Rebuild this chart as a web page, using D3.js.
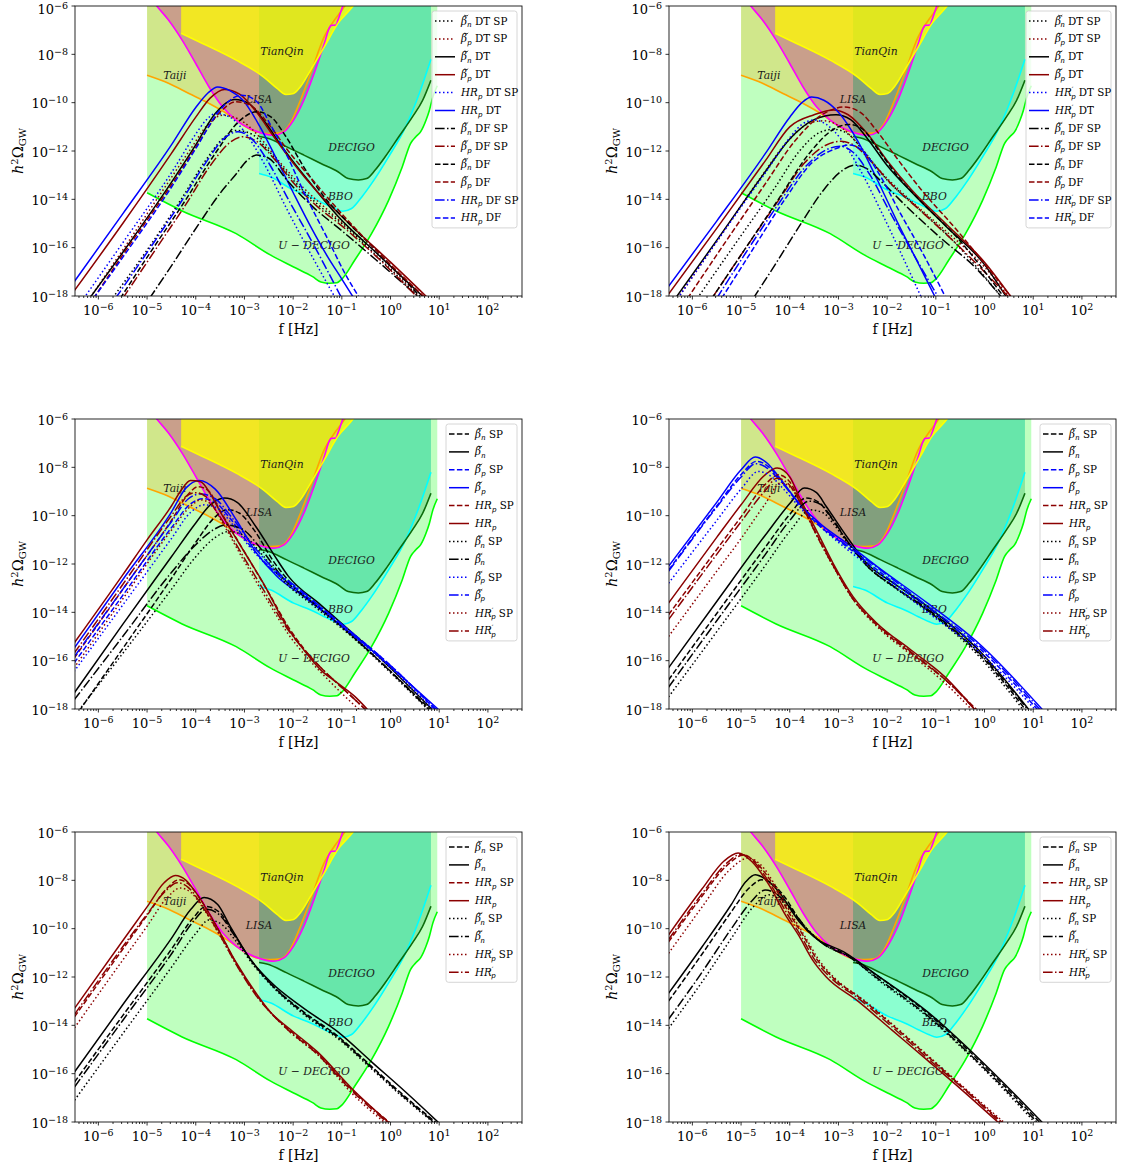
<!DOCTYPE html>
<html><head><meta charset="utf-8">
<script src="https://cdn.jsdelivr.net/npm/d3@7"></script>
<style>body{margin:0;background:#fff} text{font-family:"DejaVu Serif",serif;white-space:pre}</style>
</head><body><svg id="c" width="1132" height="1171"></svg>
<script>
// ---------- detector sensitivity curves [log10 f, log10 h2Omega] ----------
const uDecigo = [[-5,-13.73],[-4.28,-14.48],[-3.17,-15.42],[-2.47,-16.3],[-1.99,-16.8],[-1.6,-17.2],[-1.43,-17.42],[-1.25,-17.47],[-1.1,-17.45],[-1.0,-17.3],[-0.73,-16.5],[-0.39,-15.42],[-0.04,-14.04],[0.24,-12.66],[0.41,-11.69],[0.52,-11.41],[0.62,-11.2],[0.73,-10.72],[0.8,-10.3],[0.87,-9.76],[0.96,-9.3]];
const decigo = [[-2.7,-11.4],[-2.54,-11.46],[-2.13,-11.83],[-1.78,-12.17],[-1.43,-12.52],[-1.08,-12.86],[-0.87,-13.14],[-0.66,-13.2],[-0.49,-13.14],[-0.32,-12.8],[-0.11,-12.24],[0.17,-11.41],[0.45,-10.59],[0.66,-9.9],[0.83,-9.07]];
const bbo = [[-2.7,-12.93],[-2.47,-13.07],[-1.99,-13.62],[-1.64,-13.9],[-1.36,-14.18],[-1.15,-14.38],[-0.98,-14.49],[-0.8,-14.38],[-0.59,-13.9],[-0.39,-13.35],[-0.04,-12.24],[0.31,-11.0],[0.59,-9.62],[0.83,-8.2]];
const lisa = [[-4.95,-5.6],[-4.8,-6.0],[-4.56,-6.58],[-4.28,-7.41],[-4.0,-8.38],[-3.73,-9.34],[-3.45,-10.17],[-3.17,-10.72],[-2.89,-11.07],[-2.61,-11.28],[-2.4,-11.35],[-2.19,-11.21],[-1.99,-10.72],[-1.78,-9.9],[-1.57,-8.79],[-1.36,-7.55],[-1.26,-6.93],[-1.22,-6.8],[-1.12,-6.79],[-1.08,-6.58],[-0.98,-6.0],[-0.9,-5.6]];
const tianqin = [[-4.3,-7.13],[-3.86,-7.55],[-3.17,-8.24],[-2.61,-8.93],[-2.33,-9.41],[-2.15,-9.66],[-1.99,-9.62],[-1.85,-9.34],[-1.64,-8.65],[-1.36,-7.69],[-1.08,-6.72],[-0.77,-6.0],[-0.7,-5.8]];
const taiji = [[-5,-8.87],[-4.56,-9.2],[-4.14,-9.62],[-3.73,-10.03],[-3.31,-10.52],[-3.03,-10.93],[-2.75,-11.21],[-2.47,-11.28],[-2.26,-11.25],[-2.06,-10.86],[-1.85,-9.9],[-1.64,-8.79],[-1.36,-7.27],[-1.15,-6.58],[-0.94,-6.0],[-0.88,-5.8]];
const detLabels = ["TianQin","Taiji","LISA","DECIGO","BBO","U − DECIGO"];
const detLabelPos = [[-2.23,-7.85],[-4.43,-8.86],[-2.70,-9.87],[-0.80,-11.86],[-1.03,-13.87],[-1.57,-15.88]];

// ---------- axis ticks ----------
const xTickExp = [-6,-5,-4,-3,-2,-1,0,1,2];
const yTickExp = [-6,-8,-10,-12,-14,-16,-18];

// ---------- panel 1 (top-left) ----------
const p1_bnDTSP = [[-5.75,-18.2],[-5,-16.1],[-4.3,-14.0],[-3.8,-12.4],[-3.45,-11.5],[-3.17,-11.15],[-2.85,-11.3],[-2.5,-12.0],[-2.0,-13.2],[-1.5,-14.2],[-1.0,-15.0],[-0.3,-16.3],[0.6,-18.1]];
const p1_bpDTSP = [[-6.25,-18.3],[-5.5,-16.1],[-4.7,-13.7],[-4.1,-11.9],[-3.75,-10.9],[-3.45,-10.52],[-3.1,-10.7],[-2.7,-11.4],[-2.3,-12.4],[-1.8,-13.5],[-1.2,-14.6],[-0.4,-16.0],[0.6,-18.05]];
const p1_bnDT = [[-6.2,-18.15],[-5.5,-16.2],[-4.5,-13.3],[-4.0,-11.75],[-3.6,-10.45],[-3.2,-9.87],[-2.9,-10.05],[-2.6,-10.75],[-2.2,-11.9],[-1.7,-13.2],[-1.08,-14.7],[-0.3,-16.2],[0.68,-18.05]];
const p1_bpDT = [[-6.5,-17.8],[-5.5,-15.0],[-4.5,-12.1],[-4.0,-10.6],[-3.7,-9.8],[-3.41,-9.45],[-3.1,-9.65],[-2.75,-10.4],[-2.4,-11.4],[-2.0,-12.5],[-1.5,-13.7],[-0.8,-15.1],[0,-16.6],[0.75,-18.05]];
const p1_HRDTSP = [[-6.3,-18.1],[-5.5,-15.8],[-4.5,-12.9],[-4.0,-11.3],[-3.8,-10.75],[-3.59,-10.45],[-3.3,-10.6],[-3.0,-11.2],[-2.6,-12.5],[-2.13,-14.4],[-1.6,-16.4],[-1.1,-18.2]];
const p1_HRDT = [[-6.5,-17.42],[-5.5,-14.6],[-4.5,-11.75],[-4.0,-10.2],[-3.75,-9.6],[-3.55,-9.35],[-3.3,-9.5],[-3.03,-9.9],[-2.68,-11.0],[-2.33,-12.38],[-1.99,-13.76],[-1.64,-15.13],[-1.29,-16.38],[-1.0,-17.3],[-0.75,-18.1]];
const p1_bnDFSP = [[-4.95,-18.1],[-4.5,-16.75],[-3.93,-15.0],[-3.5,-13.75],[-3.17,-12.95],[-2.95,-12.4],[-2.75,-12.17],[-2.5,-12.3],[-2.13,-13.2],[-1.6,-14.3],[-1.0,-15.3],[-0.3,-16.5],[0.58,-18.05]];
const p1_bpDFSP = [[-5.5,-18.1],[-4.8,-16.0],[-4.2,-14.2],[-3.7,-12.6],[-3.3,-11.65],[-3.03,-11.41],[-2.75,-11.6],[-2.4,-12.3],[-2.0,-13.3],[-1.5,-14.3],[-1.0,-15.1],[-0.3,-16.35],[0.55,-18.05]];
const p1_bnDF = [[-5.55,-18.1],[-5.0,-16.4],[-4.2,-14.0],[-3.6,-12.1],[-3.1,-10.75],[-2.75,-10.38],[-2.45,-10.6],[-2.15,-11.4],[-1.8,-12.6],[-1.4,-13.8],[-0.9,-14.9],[-0.2,-16.3],[0.62,-18.05]];
const p1_bpDF = [[-6.1,-18.1],[-5.5,-16.3],[-4.5,-13.4],[-4.0,-11.85],[-3.55,-10.5],[-3.17,-9.96],[-2.85,-10.15],[-2.5,-10.9],[-2.1,-12.0],[-1.6,-13.2],[-1.0,-14.6],[-0.2,-16.3],[0.7,-18.05]];
const p1_HRDFSP = [[-5.65,-18.1],[-5.0,-16.2],[-4.3,-14.1],[-3.8,-12.5],[-3.4,-11.45],[-3.13,-11.2],[-2.85,-11.5],[-2.47,-12.6],[-2.1,-14.0],[-1.6,-15.8],[-1.0,-18.1]];
const p1_HRDF = [[-6.1,-18.1],[-5.5,-16.4],[-4.5,-13.5],[-4.0,-11.9],[-3.5,-10.3],[-3.06,-9.69],[-2.75,-9.95],[-2.47,-10.9],[-2.1,-12.3],[-1.78,-13.7],[-1.3,-15.6],[-0.9,-17.2],[-0.63,-18.1]];

// ---------- panel 2 (top-right) ----------
const p2_bnDTSP = [[-5.9,-18.1],[-5.0,-15.5],[-4.3,-13.5],[-3.8,-12.0],[-3.4,-11.25],[-3.1,-11.1],[-2.8,-11.3],[-2.45,-12.1],[-2.0,-13.2],[-1.4,-14.3],[-0.7,-15.6],[0.35,-18.05]];
const p2_bpDTSP = [[-6.3,-18.1],[-5.5,-15.75],[-4.6,-13.1],[-4.0,-11.5],[-3.6,-10.85],[-3.3,-10.75],[-3.0,-10.95],[-2.6,-11.7],[-2.2,-12.7],[-1.6,-13.9],[-0.8,-15.3],[0.0,-16.8],[0.5,-18.05]];
const p2_bnDT = [[-6.35,-18.1],[-5.5,-15.7],[-4.5,-12.85],[-4.0,-11.5],[-3.5,-10.7],[-3.05,-10.5],[-2.75,-10.7],[-2.4,-11.5],[-2.0,-12.6],[-1.5,-13.7],[-0.8,-15.1],[0,-16.7],[0.45,-18.05]];
const p2_bpDT = [[-6.5,-17.95],[-5.5,-15.2],[-4.5,-12.4],[-4.0,-11.0],[-3.5,-10.5],[-3.1,-10.3],[-2.8,-10.5],[-2.4,-11.3],[-2.0,-12.4],[-1.5,-13.6],[-0.8,-15.0],[0,-16.6],[0.55,-18.05]];
const p2_HRDTSP = [[-6.3,-18.1],[-5.5,-15.75],[-4.5,-12.9],[-4.0,-11.45],[-3.75,-10.9],[-3.5,-10.72],[-3.25,-10.9],[-2.95,-11.5],[-2.55,-12.8],[-2.1,-14.6],[-1.7,-16.3],[-1.3,-18.05]];
const p2_HRDT = [[-6.5,-17.63],[-5.5,-14.9],[-4.5,-12.1],[-4.0,-10.6],[-3.75,-10.0],[-3.55,-9.77],[-3.3,-9.9],[-3.0,-10.4],[-2.6,-11.6],[-2.2,-13.2],[-1.8,-14.9],[-1.4,-16.5],[-1.0,-18.1]];
const p2_bnDFSP = [[-4.75,-18.1],[-4.3,-16.7],[-3.8,-15.1],[-3.3,-13.6],[-2.95,-12.85],[-2.66,-12.58],[-2.4,-12.75],[-2.1,-13.3],[-1.6,-14.3],[-0.9,-15.6],[-0.2,-16.8],[0.35,-18.05]];
const p2_bpDFSP = [[-5.6,-18.1],[-4.9,-16.0],[-4.2,-13.95],[-3.7,-12.5],[-3.25,-11.75],[-2.95,-11.6],[-2.65,-11.8],[-2.3,-12.5],[-1.9,-13.4],[-1.3,-14.5],[-0.6,-15.8],[0.5,-18.05]];
const p2_bnDF = [[-5.6,-18.1],[-5.0,-16.3],[-4.2,-13.9],[-3.6,-12.1],[-3.1,-11.1],[-2.78,-10.9],[-2.5,-11.1],[-2.2,-11.9],[-1.8,-13.0],[-1.3,-14.1],[-0.6,-15.5],[0.4,-18.05]];
const p2_bpDF = [[-6.1,-18.1],[-5.5,-16.3],[-4.5,-13.35],[-3.9,-11.6],[-3.3,-10.45],[-2.87,-10.18],[-2.55,-10.4],[-2.2,-11.2],[-1.8,-12.3],[-1.3,-13.6],[-0.6,-15.2],[0.55,-18.05]];
const p2_HRDFSP = [[-5.5,-18.1],[-4.9,-16.2],[-4.2,-14.1],[-3.7,-12.7],[-3.25,-11.95],[-2.97,-11.8],[-2.7,-12.05],[-2.35,-13.0],[-1.95,-14.5],[-1.45,-16.3],[-0.95,-18.05]];
const p2_HRDF = [[-5.4,-18.1],[-4.8,-16.2],[-4.1,-14.0],[-3.55,-12.5],[-3.05,-11.9],[-2.77,-11.75],[-2.5,-12.0],[-2.15,-13.0],[-1.75,-14.5],[-1.25,-16.3],[-0.8,-18.05]];

// ---------- panel 3 (middle-left) ----------
const p3_bnSP = [[-6.4,-18.1],[-5.5,-15.5],[-4.5,-12.6],[-4.0,-11.1],[-3.6,-10.05],[-3.35,-9.75],[-3.1,-9.9],[-2.8,-10.6],[-2.4,-11.9],[-2.0,-12.9],[-1.4,-13.9],[-0.5,-15.5],[0.83,-18.05]];
const p3_bn = [[-6.5,-17.35],[-5.5,-14.5],[-4.5,-11.7],[-4.0,-10.3],[-3.7,-9.55],[-3.41,-9.27],[-3.15,-9.45],[-2.75,-10.5],[-2.4,-11.6],[-2.1,-12.5],[-1.43,-13.7],[-0.39,-15.56],[0.87,-18.05]];
const p3_bpSP = [[-6.5,-16.1],[-5.5,-13.3],[-4.5,-10.5],[-4.1,-9.5],[-3.85,-9.3],[-3.6,-9.45],[-3.3,-10.1],[-2.9,-11.2],[-2.5,-12.1],[-2.0,-12.9],[-1.0,-14.5],[0,-16.2],[0.93,-18.05]];
const p3_bp = [[-6.5,-15.49],[-5.5,-12.65],[-4.5,-9.85],[-4.2,-8.85],[-3.93,-8.54],[-3.6,-8.9],[-3.17,-10.17],[-2.75,-11.55],[-2.33,-12.52],[-1.78,-13.35],[-1.08,-14.45],[-0.39,-15.56],[0.31,-16.8],[1.0,-18.05]];
const p3_HRSP = [[-6.5,-15.9],[-5.5,-13.05],[-4.5,-10.2],[-4.15,-9.1],[-3.95,-8.8],[-3.75,-8.95],[-3.5,-9.8],[-3.0,-11.5],[-2.5,-13.2],[-2.1,-14.6],[-1.7,-15.7],[-1.3,-16.55],[-0.9,-17.3],[-0.5,-18.05]];
const p3_HR = [[-6.5,-15.28],[-5.5,-12.45],[-5.0,-11.0],[-4.5,-9.6],[-4.3,-8.95],[-4.11,-8.54],[-3.9,-8.6],[-3.7,-9.1],[-3.52,-9.76],[-3.03,-11.41],[-2.61,-12.8],[-2.13,-14.59],[-1.78,-15.56],[-1.43,-16.39],[-1.08,-16.94],[-0.73,-17.49],[-0.46,-18.05]];
const p3_bnpSP = [[-6.4,-18.05],[-5.5,-15.7],[-4.5,-13.05],[-4.0,-11.7],[-3.6,-10.9],[-3.31,-10.65],[-3.0,-10.85],[-2.6,-11.7],[-2.2,-12.7],[-1.6,-13.7],[-0.8,-15.0],[0,-16.5],[0.78,-18.05]];
const p3_bnp = [[-6.5,-17.63],[-5.5,-15.0],[-4.5,-12.35],[-4.0,-11.2],[-3.65,-10.6],[-3.38,-10.38],[-3.05,-10.55],[-2.65,-11.4],[-2.2,-12.6],[-1.6,-13.6],[-0.8,-14.95],[0,-16.45],[0.8,-18.05]];
const p3_bppSP = [[-6.5,-16.45],[-5.5,-13.7],[-4.5,-10.95],[-4.1,-9.85],[-3.82,-9.55],[-3.55,-9.7],[-3.25,-10.35],[-2.85,-11.4],[-2.4,-12.3],[-1.9,-13.1],[-1.0,-14.6],[0,-16.3],[0.9,-18.05]];
const p3_bpp = [[-6.5,-15.85],[-5.5,-13.05],[-4.5,-10.25],[-4.15,-9.3],[-3.9,-9.1],[-3.6,-9.3],[-3.25,-10.1],[-2.8,-11.3],[-2.4,-12.2],[-1.9,-13.0],[-1.0,-14.5],[0,-16.2],[0.95,-18.05]];
const p3_HRpSP = [[-6.5,-16.3],[-5.5,-13.45],[-4.5,-10.6],[-4.1,-9.6],[-3.9,-9.35],[-3.7,-9.5],[-3.45,-10.3],[-3.0,-11.9],[-2.5,-13.6],[-2.1,-14.9],[-1.7,-15.9],[-1.3,-16.75],[-0.9,-17.55],[-0.6,-18.1]];
const p3_HRp = [[-6.5,-15.7],[-5.5,-12.85],[-4.5,-10.0],[-4.2,-9.2],[-4.0,-9.05],[-3.8,-9.2],[-3.55,-9.9],[-3.05,-11.6],[-2.6,-13.1],[-2.15,-14.6],[-1.75,-15.6],[-1.35,-16.45],[-0.95,-17.2],[-0.5,-18.05]];

// ---------- panel 4 (middle-right) ----------
const p4_bnSP = [[-6.49,-16.8],[-5.5,-14.05],[-4.5,-11.3],[-4.0,-9.95],[-3.67,-9.27],[-3.4,-9.45],[-3.2,-9.95],[-2.8,-11.1],[-2.4,-12.1],[-1.85,-12.95],[-1.15,-13.95],[-0.1,-15.75],[0.85,-18.05]];
const p4_bn = [[-6.49,-16.3],[-5.5,-13.55],[-4.5,-10.8],[-4.0,-9.5],[-3.7,-8.86],[-3.45,-9.05],[-3.25,-9.62],[-2.83,-10.86],[-2.42,-11.97],[-1.86,-12.8],[-1.17,-13.76],[-0.12,-15.56],[0.92,-18.05]];
const p4_bpSP = [[-6.49,-12.25],[-5.5,-9.6],[-5.0,-8.3],[-4.68,-7.75],[-4.42,-8.0],[-4.2,-8.5],[-3.8,-9.55],[-3.4,-10.4],[-2.85,-11.25],[-2.2,-12.25],[-1.2,-13.8],[-0.1,-15.5],[1.1,-18.05]];
const p4_bp = [[-6.49,-12.1],[-5.5,-9.45],[-5.0,-8.1],[-4.71,-7.57],[-4.45,-7.85],[-4.23,-8.38],[-3.81,-9.48],[-3.39,-10.31],[-2.83,-11.14],[-2.21,-12.1],[-1.17,-13.62],[-0.12,-15.28],[1.2,-18.05]];
const p4_HRSP = [[-6.49,-14.1],[-5.5,-11.4],[-5.0,-10.05],[-4.5,-8.7],[-4.23,-8.31],[-4.0,-8.6],[-3.8,-9.35],[-3.4,-10.95],[-3.1,-12.1],[-2.7,-13.45],[-2.2,-14.55],[-1.5,-15.7],[-0.8,-16.8],[-0.15,-18.05]];
const p4_HR = [[-6.49,-13.62],[-5.5,-10.9],[-5.0,-9.55],[-4.5,-8.3],[-4.26,-8.03],[-4.0,-8.4],[-3.81,-9.2],[-3.39,-10.86],[-3.11,-11.97],[-2.7,-13.35],[-2.21,-14.45],[-1.51,-15.56],[-0.82,-16.66],[-0.19,-18.05]];
const p4_bnpSP = [[-6.49,-17.5],[-5.5,-14.8],[-4.5,-12.05],[-4.0,-10.65],[-3.57,-9.76],[-3.3,-9.9],[-3.1,-10.35],[-2.75,-11.3],[-2.35,-12.2],[-1.8,-13.05],[-1.1,-14.05],[-0.1,-15.85],[0.8,-18.05]];
const p4_bnp = [[-6.49,-17.1],[-5.5,-14.35],[-4.5,-11.6],[-4.0,-10.2],[-3.6,-9.4],[-3.35,-9.55],[-3.15,-10.05],[-2.8,-11.1],[-2.4,-12.1],[-1.85,-12.95],[-1.15,-13.9],[-0.1,-15.7],[0.9,-18.05]];
const p4_bppSP = [[-6.49,-12.8],[-5.5,-10.2],[-5.0,-8.9],[-4.64,-8.17],[-4.4,-8.35],[-4.15,-8.85],[-3.75,-9.75],[-3.35,-10.5],[-2.85,-11.35],[-2.2,-12.35],[-1.2,-13.95],[-0.1,-15.65],[1.05,-18.05]];
const p4_bpp = [[-6.49,-12.3],[-5.5,-9.65],[-5.0,-8.4],[-4.7,-7.85],[-4.45,-8.05],[-4.2,-8.55],[-3.8,-9.5],[-3.4,-10.35],[-2.85,-11.2],[-2.2,-12.15],[-1.2,-13.7],[-0.1,-15.4],[1.15,-18.05]];
const p4_HRpSP = [[-6.49,-15.0],[-5.5,-12.3],[-5.0,-10.95],[-4.5,-9.5],[-4.19,-8.65],[-3.95,-8.9],[-3.75,-9.6],[-3.35,-11.2],[-3.05,-12.3],[-2.65,-13.6],[-2.15,-14.7],[-1.45,-15.85],[-0.8,-16.95],[-0.25,-18.05]];
const p4_HRp = [[-6.49,-14.3],[-5.5,-11.6],[-5.0,-10.25],[-4.5,-8.95],[-4.26,-8.45],[-4.02,-8.7],[-3.8,-9.4],[-3.4,-11.0],[-3.1,-12.1],[-2.7,-13.45],[-2.2,-14.5],[-1.5,-15.65],[-0.8,-16.8],[-0.18,-18.05]];

// ---------- panel 5 (bottom-left) ----------
const p5_bnSP = [[-6.49,-16.35],[-5.5,-13.6],[-4.5,-10.85],[-4.05,-9.55],[-3.79,-9.08],[-3.5,-9.35],[-3.25,-10.1],[-2.85,-11.35],[-2.45,-12.3],[-1.78,-13.45],[-1.08,-14.45],[-0.39,-15.7],[0.3,-16.95],[0.95,-18.05]];
const p5_bn = [[-6.49,-15.93],[-5.5,-13.15],[-4.5,-10.4],[-4.1,-9.2],[-3.83,-8.71],[-3.55,-9.0],[-3.31,-9.84],[-2.89,-11.23],[-2.47,-12.19],[-1.78,-13.3],[-1.08,-14.27],[-0.39,-15.51],[0.31,-16.76],[1.0,-18.05]];
const p5_HRSP = [[-6.49,-13.65],[-5.5,-10.85],[-5.0,-9.45],[-4.6,-8.35],[-4.35,-7.98],[-4.15,-8.15],[-3.95,-8.65],[-3.55,-10.0],[-3.15,-11.5],[-2.75,-12.75],[-2.45,-13.5],[-2.1,-14.15],[-1.5,-15.15],[-0.8,-16.65],[0.0,-18.05]];
const p5_HR = [[-6.49,-13.3],[-5.5,-10.5],[-5.0,-9.1],[-4.65,-8.1],[-4.42,-7.8],[-4.2,-8.0],[-4.0,-8.5],[-3.59,-9.84],[-3.17,-11.4],[-2.75,-12.7],[-2.47,-13.45],[-2.1,-14.1],[-1.5,-15.1],[-0.8,-16.6],[-0.02,-18.05]];
const p5_bnpSP = [[-6.49,-17.1],[-5.5,-14.35],[-4.5,-11.6],[-4.0,-10.2],[-3.73,-9.64],[-3.45,-9.85],[-3.2,-10.45],[-2.8,-11.55],[-2.4,-12.45],[-1.75,-13.6],[-1.05,-14.6],[-0.39,-15.8],[0.3,-17.05],[0.9,-18.05]];
const p5_bnp = [[-6.49,-16.55],[-5.5,-13.8],[-4.5,-11.05],[-4.05,-9.7],[-3.78,-9.2],[-3.5,-9.45],[-3.25,-10.15],[-2.85,-11.35],[-2.45,-12.3],[-1.78,-13.5],[-1.08,-14.5],[-0.39,-15.75],[0.3,-17.0],[0.92,-18.05]];
const p5_HRpSP = [[-6.49,-14.1],[-5.5,-11.3],[-5.0,-9.9],[-4.6,-8.75],[-4.32,-8.32],[-4.1,-8.5],[-3.9,-9.0],[-3.5,-10.3],[-3.1,-11.7],[-2.7,-12.9],[-2.4,-13.6],[-2.05,-14.3],[-1.45,-15.3],[-0.8,-16.8],[-0.1,-18.05]];
const p5_HRp = [[-6.49,-13.55],[-5.5,-10.75],[-5.0,-9.4],[-4.6,-8.4],[-4.38,-8.1],[-4.15,-8.3],[-3.95,-8.8],[-3.55,-10.1],[-3.15,-11.55],[-2.75,-12.8],[-2.45,-13.5],[-2.1,-14.2],[-1.5,-15.2],[-0.8,-16.7],[-0.05,-18.05]];

// ---------- panel 6 (bottom-right) ----------
const p6_bnSP = [[-6.49,-13.0],[-5.8,-11.05],[-5.2,-9.3],[-4.85,-8.35],[-4.57,-7.98],[-4.35,-8.15],[-4.1,-8.7],[-3.75,-9.8],[-3.4,-10.5],[-2.85,-11.05],[-2.2,-11.95],[-1.17,-13.5],[-0.12,-15.45],[1.15,-18.05]];
const p6_bn = [[-6.49,-12.68],[-5.8,-10.75],[-5.2,-9.0],[-4.9,-8.05],[-4.71,-7.77],[-4.5,-7.95],[-4.23,-8.46],[-3.81,-9.7],[-3.46,-10.4],[-2.9,-10.95],[-2.21,-11.92],[-1.17,-13.44],[-0.12,-15.37],[1.2,-18.05]];
const p6_HRSP = [[-6.49,-10.55],[-5.8,-8.65],[-5.3,-7.4],[-4.95,-6.95],[-4.7,-7.25],[-4.35,-8.15],[-4.0,-9.4],[-3.72,-10.3],[-3.45,-11.25],[-3.15,-11.95],[-2.5,-12.95],[-1.8,-14.15],[-1.1,-15.4],[-0.4,-16.65],[0.38,-18.05]];
const p6_HR = [[-6.49,-10.26],[-5.8,-8.35],[-5.35,-7.2],[-5.06,-6.87],[-4.78,-7.22],[-4.43,-8.18],[-4.09,-9.43],[-3.81,-10.3],[-3.53,-11.3],[-3.25,-12.0],[-2.6,-13.0],[-1.9,-14.2],[-1.17,-15.45],[-0.45,-16.7],[0.3,-18.05]];
const p6_bnpSP = [[-6.49,-14.13],[-5.8,-12.2],[-5.2,-10.4],[-4.75,-9.1],[-4.43,-8.6],[-4.2,-8.8],[-3.95,-9.3],[-3.6,-10.1],[-3.25,-10.7],[-2.75,-11.2],[-2.2,-12.1],[-1.17,-13.65],[-0.12,-15.6],[1.05,-18.05]];
const p6_bnp = [[-6.49,-13.75],[-5.8,-11.8],[-5.2,-10.0],[-4.8,-8.9],[-4.5,-8.4],[-4.25,-8.6],[-4.0,-9.1],[-3.65,-10.0],[-3.3,-10.65],[-2.8,-11.15],[-2.2,-12.05],[-1.17,-13.6],[-0.12,-15.55],[1.1,-18.05]];
const p6_HRpSP = [[-6.49,-11.02],[-5.8,-9.1],[-5.25,-7.6],[-4.85,-7.08],[-4.6,-7.35],[-4.3,-8.2],[-3.95,-9.45],[-3.68,-10.35],[-3.4,-11.3],[-3.1,-12.0],[-2.45,-13.0],[-1.75,-14.2],[-1.05,-15.45],[-0.35,-16.7],[0.42,-18.05]];
const p6_HRp = [[-6.49,-10.45],[-5.8,-8.55],[-5.3,-7.3],[-5.0,-6.92],[-4.74,-7.23],[-4.4,-8.15],[-4.05,-9.4],[-3.77,-10.3],[-3.5,-11.25],[-3.2,-11.95],[-2.55,-12.95],[-1.85,-14.15],[-1.15,-15.4],[-0.42,-16.65],[0.34,-18.05]];

// ---------- styles ----------
const COL = {k:"#000000", r:"#8b0000", b:"#0000ff"};
const DASH = {solid:null, dotted:"1.5,2.5", dashed:"5.5,2.4", dashdot:"9.6,2.4,1.5,2.4"};

function C(d,c,s,sym,prime,sub,suf){return {d,c,s,sym,prime,sub,suf};}
const panels = [
 {ox:75, oy:6, lw:85, curves:[
  C(p1_bnDTSP,'k','dotted','b',0,'n',' DT SP'), C(p1_bpDTSP,'r','dotted','b',0,'p',' DT SP'),
  C(p1_bnDT,'k','solid','b',0,'n',' DT'), C(p1_bpDT,'r','solid','b',0,'p',' DT'),
  C(p1_HRDTSP,'b','dotted','HR',0,'p',' DT SP'), C(p1_HRDT,'b','solid','HR',0,'p',' DT'),
  C(p1_bnDFSP,'k','dashdot','b',0,'n',' DF SP'), C(p1_bpDFSP,'r','dashdot','b',0,'p',' DF SP'),
  C(p1_bnDF,'k','dashed','b',0,'n',' DF'), C(p1_bpDF,'r','dashed','b',0,'p',' DF'),
  C(p1_HRDFSP,'b','dashdot','HR',0,'p',' DF SP'), C(p1_HRDF,'b','dashed','HR',0,'p',' DF')]},
 {ox:669, oy:6, lw:85, curves:[
  C(p2_bnDTSP,'k','dotted','b',1,'n',' DT SP'), C(p2_bpDTSP,'r','dotted','b',1,'p',' DT SP'),
  C(p2_bnDT,'k','solid','b',1,'n',' DT'), C(p2_bpDT,'r','solid','b',1,'p',' DT'),
  C(p2_HRDTSP,'b','dotted','HR',1,'p',' DT SP'), C(p2_HRDT,'b','solid','HR',1,'p',' DT'),
  C(p2_bnDFSP,'k','dashdot','b',1,'n',' DF SP'), C(p2_bpDFSP,'r','dashdot','b',1,'p',' DF SP'),
  C(p2_bnDF,'k','dashed','b',1,'n',' DF'), C(p2_bpDF,'r','dashed','b',1,'p',' DF'),
  C(p2_HRDFSP,'b','dashdot','HR',1,'p',' DF SP'), C(p2_HRDF,'b','dashed','HR',1,'p',' DF')]},
 {ox:75, oy:419, lw:71, curves:[
  C(p3_bnSP,'k','dashed','b',0,'n',' SP'), C(p3_bn,'k','solid','b',0,'n',''),
  C(p3_bpSP,'b','dashed','b',0,'p',' SP'), C(p3_bp,'b','solid','b',0,'p',''),
  C(p3_HRSP,'r','dashed','HR',0,'p',' SP'), C(p3_HR,'r','solid','HR',0,'p',''),
  C(p3_bnpSP,'k','dotted','b',1,'n',' SP'), C(p3_bnp,'k','dashdot','b',1,'n',''),
  C(p3_bppSP,'b','dotted','b',1,'p',' SP'), C(p3_bpp,'b','dashdot','b',1,'p',''),
  C(p3_HRpSP,'r','dotted','HR',1,'p',' SP'), C(p3_HRp,'r','dashdot','HR',1,'p','')]},
 {ox:669, oy:419, lw:71, curves:[
  C(p4_bnSP,'k','dashed','b',0,'n',' SP'), C(p4_bn,'k','solid','b',0,'n',''),
  C(p4_bpSP,'b','dashed','b',0,'p',' SP'), C(p4_bp,'b','solid','b',0,'p',''),
  C(p4_HRSP,'r','dashed','HR',0,'p',' SP'), C(p4_HR,'r','solid','HR',0,'p',''),
  C(p4_bnpSP,'k','dotted','b',1,'n',' SP'), C(p4_bnp,'k','dashdot','b',1,'n',''),
  C(p4_bppSP,'b','dotted','b',1,'p',' SP'), C(p4_bpp,'b','dashdot','b',1,'p',''),
  C(p4_HRpSP,'r','dotted','HR',1,'p',' SP'), C(p4_HRp,'r','dashdot','HR',1,'p','')]},
 {ox:75, oy:832, lw:71, curves:[
  C(p5_bnSP,'k','dashed','b',0,'n',' SP'), C(p5_bn,'k','solid','b',0,'n',''),
  C(p5_HRSP,'r','dashed','HR',0,'p',' SP'), C(p5_HR,'r','solid','HR',0,'p',''),
  C(p5_bnpSP,'k','dotted','b',1,'n',' SP'), C(p5_bnp,'k','dashdot','b',1,'n',''),
  C(p5_HRpSP,'r','dotted','HR',1,'p',' SP'), C(p5_HRp,'r','dashdot','HR',1,'p','')]},
 {ox:669, oy:832, lw:71, curves:[
  C(p6_bnSP,'k','dashed','b',0,'n',' SP'), C(p6_bn,'k','solid','b',0,'n',''),
  C(p6_HRSP,'r','dashed','HR',0,'p',' SP'), C(p6_HR,'r','solid','HR',0,'p',''),
  C(p6_bnpSP,'k','dotted','b',1,'n',' SP'), C(p6_bnp,'k','dashdot','b',1,'n',''),
  C(p6_HRpSP,'r','dotted','HR',1,'p',' SP'), C(p6_HRp,'r','dashdot','HR',1,'p','')]}
];

const W = 447, H = 290;
const x = d3.scaleLog().domain([Math.pow(10,-6.48), Math.pow(10,2.7)]).range([0, W]);
const y = d3.scaleLog().domain([1e-18, 1e-6]).range([H, 0]);
const P = d => [x(Math.pow(10,d[0])), y(Math.pow(10,d[1]))];
const line = d3.line().x(d=>P(d)[0]).y(d=>P(d)[1]).curve(d3.curveMonotoneX);
const areaTop = d3.area().x(d=>P(d)[0]).y0(-5).y1(d=>P(d)[1]).curve(d3.curveMonotoneX);

const svg = d3.select("#c");
const defs = svg.append("defs");
defs.append("clipPath").attr("id","clip").append("rect").attr("x",0).attr("y",0).attr("width",W).attr("height",H);

// fill drawing order (bottom to top)
const fills = [
  {d:uDecigo, fill:"#00ff00", op:0.25, stroke:"#00ff00"},
  {d:bbo, fill:"#00ffff", op:0.27, stroke:"#00ffff"},
  {d:taiji, fill:"#ffa500", op:0.27, stroke:"#ffa500"},
  {d:lisa, fill:"#be198c", op:0.35, stroke:"#ff00ff"},
  {d:decigo, fill:"#00a03c", op:0.26, stroke:"#0b6b0b"},
  {d:tianqin, fill:"#ffff00", op:0.75, stroke:"#ffff00"}
];

const TF = 13, TS = 9.5;
function sup(t, base, exp){
  t.append("tspan").text(base);
  t.append("tspan").attr("font-size", TS).attr("dy", -4.8).text(exp);
}

const LF = 10.3;
function legendLabel(g, lx, ly, c){
  const t = g.append("text").attr("x", lx).attr("y", ly + 3.5).attr("font-size", LF);
  t.append("tspan").attr("font-style","italic").text(c.sym==='b' ? "β" : "HR");
  if (c.prime){
    t.append("tspan").attr("font-size",7.3).attr("dy",-4).text("′");
    t.append("tspan").attr("font-style","italic").attr("font-size",7.3).attr("dx",-2.5).attr("dy",6.6).text(c.sub);
    t.append("tspan").attr("dy",-2.6).text(c.suf);
  } else {
    t.append("tspan").attr("font-style","italic").attr("font-size",7.3).attr("dy",2.7).text(c.sub);
    t.append("tspan").attr("dy",-2.7).text(c.suf);
  }
  if (c.sym==='b'){
    const tx = lx + 2.6, ty = ly - 5.6;
    g.append("path").attr("d", `M${tx},${ty+0.8} q1.1,-1.6 2.3,-0.6 t2.3,-0.6`)
      .attr("fill","none").attr("stroke","#000").attr("stroke-width",0.75);
  }
}

panels.forEach(pn => {
  const g = svg.append("g").attr("transform", `translate(${pn.ox},${pn.oy})`);
  const inner = g.append("g").attr("clip-path","url(#clip)");
  fills.forEach(f => {
    inner.append("path").attr("d", areaTop(f.d)).attr("fill", f.fill).attr("fill-opacity", f.op).attr("stroke","none");
  });
  fills.forEach(f => {
    inner.append("path").attr("d", line(f.d)).attr("fill","none").attr("stroke", f.stroke).attr("stroke-width",1.6);
  });
  detLabels.forEach((lab,i) => {
    const p = P(detLabelPos[i]);
    inner.append("text").attr("x",p[0]).attr("y",p[1]+3.8).attr("text-anchor","middle")
      .attr("font-size",10.8).attr("font-style","italic").attr("fill","#1a1a1a").text(lab);
  });
  pn.curves.forEach(c => {
    inner.append("path").attr("d", line(c.d)).attr("fill","none").attr("stroke", COL[c.c]).attr("stroke-width",1.5)
      .attr("stroke-dasharray", DASH[c.s]);
  });
  g.append("rect").attr("x",0).attr("y",0).attr("width",W).attr("height",H).attr("fill","none").attr("stroke","#111").attr("stroke-width",0.9);
  for (let e=-7; e<=2; e++){
    for (let m=1; m<=9; m++){
      const v = m*Math.pow(10,e);
      if (v < x.domain()[0] || v > x.domain()[1]) continue;
      const px = x(v);
      g.append("line").attr("x1",px).attr("x2",px).attr("y1",H).attr("y2",H+(m===1?3.5:2)).attr("stroke","#000").attr("stroke-width",0.8);
    }
  }
  xTickExp.forEach(e => {
    const t = g.append("text").attr("x", x(Math.pow(10,e))).attr("y", H+19).attr("text-anchor","middle").attr("font-size",TF);
    sup(t, "10", e<0 ? "−"+(-e) : String(e));
  });
  yTickExp.forEach(e => {
    const py = y(Math.pow(10,e));
    g.append("line").attr("x1",-3.5).attr("x2",0).attr("y1",py).attr("y2",py).attr("stroke","#000").attr("stroke-width",0.8);
    // keep the topmost label of the top row inside the page
    const shift = (pn.oy + py < 10) ? 2.6 : 0;
    const t = g.append("text").attr("x",-7).attr("y",py+5.5+shift).attr("text-anchor","end").attr("font-size",TF);
    sup(t, "10", "−"+(-e));
  });
  g.append("text").attr("x", W/2).attr("y", H+38).attr("text-anchor","middle").attr("font-size",14).text("f [Hz]");
  const yl = g.append("text").attr("transform", `translate(-52,${H/2}) rotate(-90)`).attr("text-anchor","middle").attr("font-size",14.5);
  yl.append("tspan").attr("font-style","italic").text("h");
  yl.append("tspan").attr("font-size",10).attr("dy",-5.5).text("2");
  yl.append("tspan").attr("dy",5.5).text("Ω");
  yl.append("tspan").attr("font-size",10).attr("dy",3).text("GW");
  const n = pn.curves.length, rowH = 17.9;
  const lx = W - 5 - pn.lw, ly = 5;
  const lh = 10 + (n-1)*rowH + 10;
  const lg = g.append("g");
  lg.append("rect").attr("x",lx).attr("y",ly).attr("width",pn.lw).attr("height",lh).attr("rx",2.5)
    .attr("fill","#fff").attr("fill-opacity",0.8).attr("stroke","#cccccc").attr("stroke-width",0.8);
  pn.curves.forEach((c,i) => {
    const ry = ly + 10 + i*rowH;
    lg.append("line").attr("x1",lx+3).attr("x2",lx+23).attr("y1",ry).attr("y2",ry).attr("stroke",COL[c.c]).attr("stroke-width",1.5)
      .attr("stroke-dasharray", DASH[c.s]);
    legendLabel(lg, lx+29, ry, c);
  });
});
</script></body></html>
